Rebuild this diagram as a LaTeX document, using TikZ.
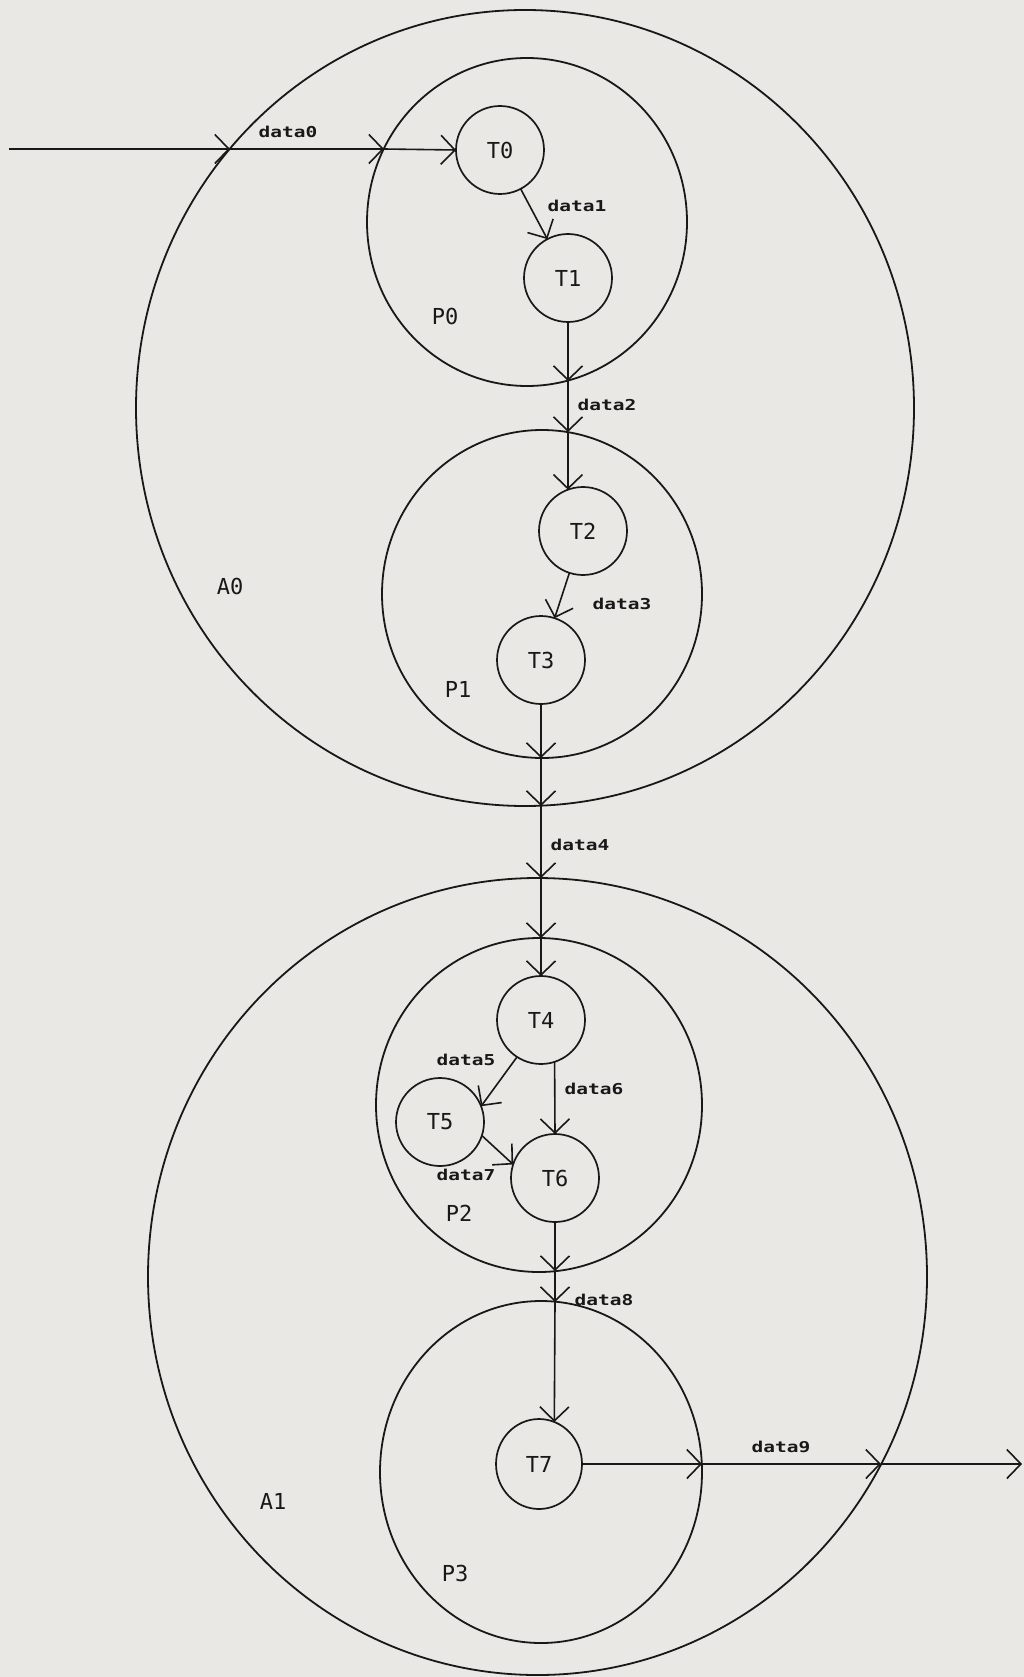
\documentclass[tikz,border=0pt]{standalone}
\usepackage{fontspec}
\setmonofont{DejaVu Sans Mono}
\usetikzlibrary{arrows.meta,shapes.geometric}
\definecolor{paper}{RGB}{234,232,229}
\definecolor{ink}{RGB}{24,24,24}
\newcommand{\dl}[1]{\scalebox{1.3}[1]{#1}}
\begin{document}
\begin{tikzpicture}[x=1pt,y=-1pt,
  arr/.style={-{Straight Barb[length=14pt,width=29pt]}, draw=ink, line width=1.6pt},
  region/.style={ellipse, draw=ink, line width=1.8pt, inner sep=0pt, outer sep=0pt},
  task/.style={circle, draw=ink, line width=1.7pt, minimum size=88pt, inner sep=0pt, outer sep=0pt,
    font=\fontsize{22}{22}\selectfont\ttfamily, text=ink},
  big/.style={font=\fontsize{22}{22}\selectfont\ttfamily, text=ink, inner sep=0pt},
  small/.style={font=\fontsize{15}{15}\selectfont\ttfamily\bfseries, text=ink, inner sep=0pt}]
\fill[paper] (0,0) rectangle (1024,1677);
\useasboundingbox (0,0) rectangle (1024,1677);

% regions
\node[region, minimum width=778pt, minimum height=796pt] (A0) at (525,408) {};
\node[region, minimum width=320pt, minimum height=328pt] (P0) at (527,222) {};
\node[region, minimum width=320pt, minimum height=328pt] (P1) at (542,594) {};
\node[region, minimum width=779pt, minimum height=797pt] (A1) at (537.5,1276.5) {};
\node[region, minimum width=326pt, minimum height=334pt] (P2) at (539,1105) {};
\node[region, minimum width=322pt, minimum height=342pt] (P3) at (541,1472) {};

% tasks
\node[task] (T0) at (500,150) {T0};
\node[task] (T1) at (568,278) {T1};
\node[task] (T2) at (583,531) {T2};
\node[task] (T3) at (541,660) {T3};
\node[task] (T4) at (541,1020) {T4};
\node[task] (T5) at (440,1122) {T5};
\node[task] (T6) at (555,1178) {T6};
\node[task, ellipse, minimum width=86pt, minimum height=90pt] (T7) at (539,1464) {T7};

% region labels
\node[big] (lA0) at (230,586) {A0};
\node[big] (lA1) at (273,1501) {A1};
\node[big] (lP0) at (445,316) {P0};
\node[big] (lP1) at (458,689) {P1};
\node[big] (lP2) at (459,1213) {P2};
\node[big] (lP3) at (455,1573) {P3};

% crossing points
\coordinate (in0) at (9,149);
\coordinate (c0a) at (230,149);
\coordinate (c0b) at (384,149);
\coordinate (c2a) at (568,381);
\coordinate (c2b) at (568,432);
\coordinate (c4a) at (541,758);
\coordinate (c4b) at (541,806);
\coordinate (c4c) at (541,878);
\coordinate (c4d) at (541,938);
\coordinate (c8a) at (555,1271);
\coordinate (c8b) at (555,1302);
\coordinate (c9a) at (702,1464);
\coordinate (c9b) at (881,1464);
\coordinate (out9) at (1022,1464);

% data0
\draw[arr] (in0) -- (c0a);
\draw[arr] (c0a) -- (c0b);
\draw[arr] (c0b) -- (T0.west);
% data1
\draw[arr] (T0) -- (T1);
% data2
\draw[arr] (T1.south) -- (c2a);
\draw[arr] (c2a) -- (c2b);
\draw[arr] (c2b) -- (T2.110);
% data3
\draw[arr] (T2) -- (T3);
% data4
\draw[arr] (T3.south) -- (c4a);
\draw[arr] (c4a) -- (c4b);
\draw[arr] (c4b) -- (c4c);
\draw[arr] (c4c) -- (c4d);
\draw[arr] (c4d) -- (T4.north);
% data5, data6, data7
\draw[arr] (T4.237) -- (T5.21);
\draw[arr] (T4.-72) -- (T6.north);
\draw[arr] (T5.-18) -- (T6.162);
% data8
\draw[arr] (T6.south) -- (c8a);
\draw[arr] (c8a) -- (c8b);
\draw[arr] (c8b) -- (T7.70);
% data9
\draw[arr] (T7.east) -- (c9a);
\draw[arr] (c9a) -- (c9b);
\draw[arr] (c9b) -- (out9);

% data labels
\node[small] (d0) at (288,132) {\dl{data0}};
\node[small] (d1) at (577,206) {\dl{data1}};
\node[small] (d2) at (607,405) {\dl{data2}};
\node[small] (d3) at (622,604) {\dl{data3}};
\node[small] (d4) at (580,845) {\dl{data4}};
\node[small] (d5) at (466,1060) {\dl{data5}};
\node[small] (d6) at (594,1089) {\dl{data6}};
\node[small] (d7) at (466,1175) {\dl{data7}};
\node[small] (d8) at (604,1300) {\dl{data8}};
\node[small] (d9) at (781,1447) {\dl{data9}};
\end{tikzpicture}
\end{document}
